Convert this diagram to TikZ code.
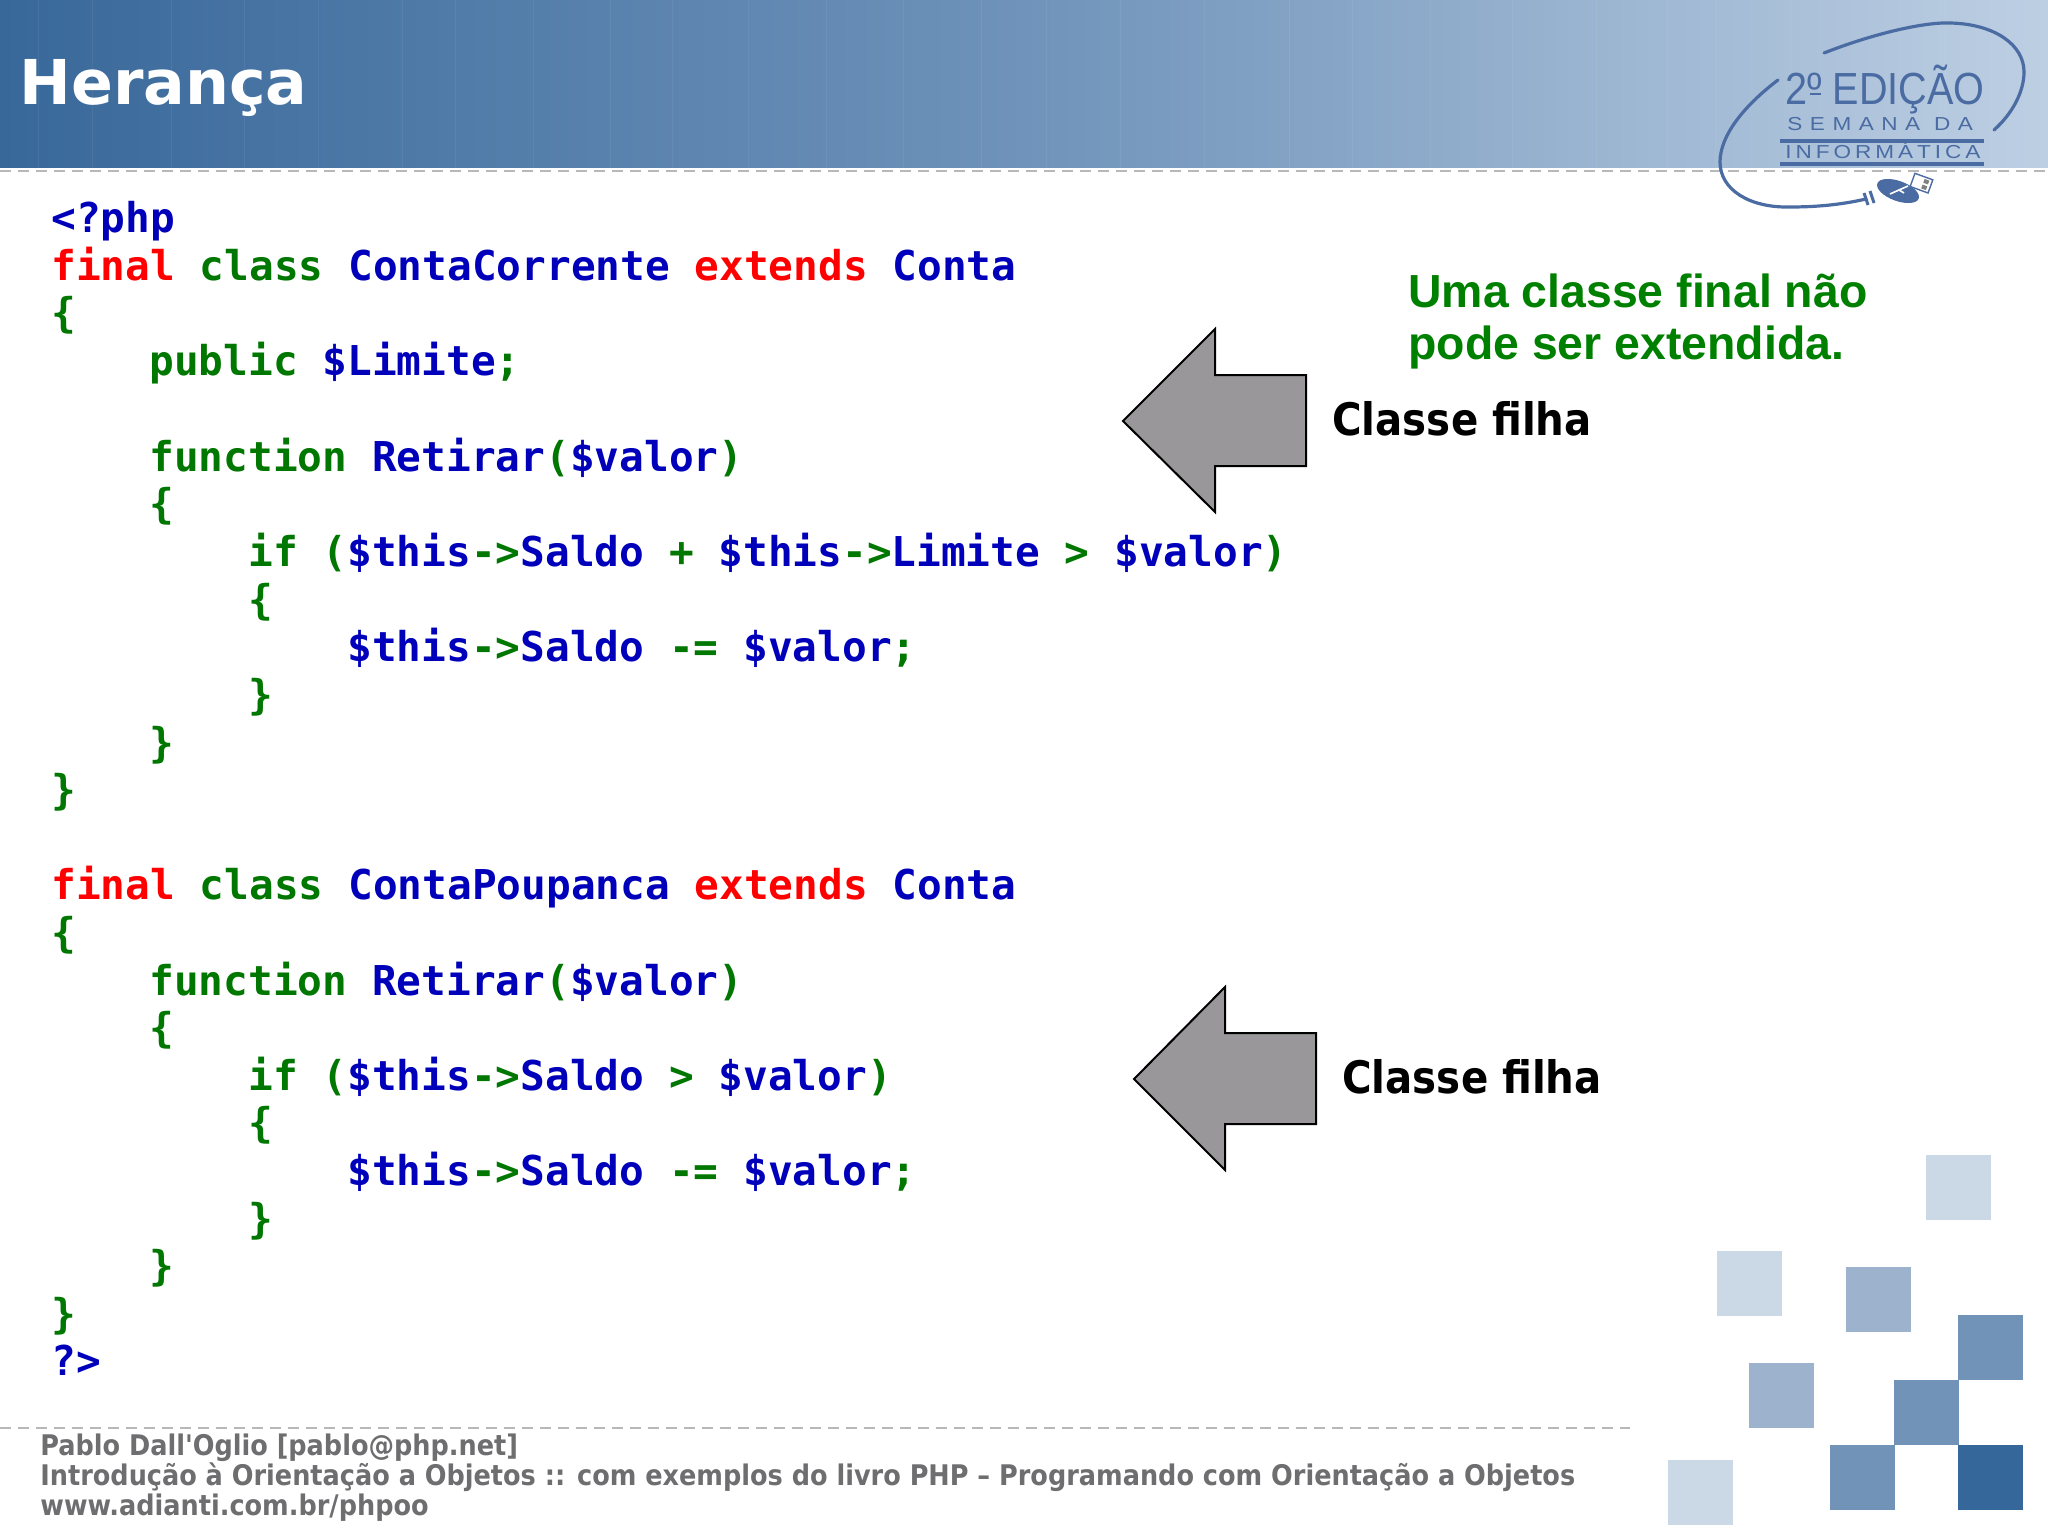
\documentclass[tikz,border=0pt]{standalone}
\usepackage{fontspec}
\usepackage{tikz}
\usetikzlibrary{positioning}
\setmainfont{DejaVu Sans}
\newfontfamily\codefont{DejaVu Sans Mono}
\newfontfamily\notefont{Liberation Sans}
\newfontfamily\labelfont{DejaVu Sans Condensed}
\newfontfamily\logofont[FakeStretch=0.88]{Liberation Sans}
\newfontfamily\logosemana[FakeStretch=1.2,LetterSpace=40]{Liberation Sans}
\newfontfamily\logoinfo[FakeStretch=1.2,LetterSpace=21]{Liberation Sans}
\definecolor{bannerleft}{HTML}{38689A}
\definecolor{bannermid}{HTML}{6F93BA}
\definecolor{bannerright}{HTML}{BDCFE3}
\definecolor{phpred}{HTML}{FF0000}
\definecolor{phpgreen}{HTML}{007700}
\definecolor{phpblue}{HTML}{0000BB}
\definecolor{notegreen}{HTML}{008000}
\definecolor{footgray}{HTML}{6E6E70}
\definecolor{dashgray}{HTML}{B8B8B8}
\definecolor{arrowgray}{HTML}{999799}
\definecolor{logoblue}{HTML}{4A6CA3}
\definecolor{sqlight}{HTML}{CBD8E5}
\definecolor{sqmid}{HTML}{9DB2CC}
\definecolor{sqstrong}{HTML}{7293B8}
\definecolor{sqdark}{HTML}{35679B}
\newcommand{\kwr}[1]{\textcolor{phpred}{#1}}
\newcommand{\kwg}[1]{\textcolor{phpgreen}{#1}}
\newcommand{\kwb}[1]{\textcolor{phpblue}{#1}}
\newcommand{\arrowop}{\kwg{->}}
\tikzset{codeline/.style = {anchor=base west, inner sep=0, font=\codefont\bfseries\fontsize{20.55}{24}\selectfont},
         footline/.style = {anchor=base west, inner sep=0, text=footgray, font=\labelfont\bfseries\fontsize{14.2}{16}\selectfont},
         noteline/.style = {anchor=base west, inner sep=0, text=notegreen, font=\notefont\bfseries\fontsize{23.2}{26}\selectfont},
         filha/.style = {anchor=base west, inner sep=0, font=\labelfont\bfseries\fontsize{22.4}{28}\selectfont},
         seta/.style = {draw=black, fill=arrowgray, line width=1pt, line join=miter},
         tracejado/.style = {dashgray, line width=1.4pt, dash pattern=on 5.5pt off 3.5pt},
         quadro/.style = {minimum size=32.5pt, inner sep=0, anchor=north west},
         logoline/.style = {logoblue, line width=1.6pt, line cap=round},
         logotext/.style = {anchor=base west, inner sep=0, text=logoblue}}
\begin{document}
\begin{tikzpicture}[x=0.5pt, y=-0.5pt]
    \useasboundingbox (0, 0) rectangle (2048, 1535);
    \fill [white] (0, 0) rectangle (2048, 1535);

    % banner
    \shade [left color=bannerleft, right color=bannerright, middle color=bannermid] (0, 0) rectangle (2048, 168);
    \foreach \sx in {38, 92, 171, 244, 318, 402, 455, 533, 610, 672, 748, 826, 903, 981, 1046, 1120, 1204, 1289, 1352, 1430, 1512, 1596, 1667, 1715, 1790, 1945}
        \fill [white, opacity=0.06] (\sx, 0) rectangle ++(1, 168);
    \draw [tracejado] (0, 171) -- (2048, 171);
    \node [anchor=base west, inner sep=0, text=white, font=\bfseries\fontsize{30.9}{36}\selectfont] (titulo) at (19, 105) {Herança};

    % logo
    \draw [logoline] (1824, 53) .. controls (1875, 33) and (1925, 22) .. (1950, 23)
                     .. controls (1995, 24) and (2024, 45) .. (2024, 72)
                     .. controls (2024, 92) and (2012, 114) .. (1994, 130);
    \draw [logoline] (1778, 80) .. controls (1745, 105) and (1720, 135) .. (1720, 162)
                     .. controls (1720, 190) and (1750, 208) .. (1790, 207)
                     .. controls (1815, 207) and (1840, 205) .. (1866, 199);
    \draw [logoblue, line width=1.5pt] (1864, 193) -- (1868, 205) (1870, 191) -- (1874, 203);
    \draw [logoblue, fill=white, line width=0.7pt, rotate around={-20:(1921, 183)}] (1912, 176) rectangle (1931, 190);
    \fill [gray, rotate around={-20:(1921, 183)}] (1923, 178) rectangle ++(5, 4) (1923, 184) rectangle ++(5, 4);
    \fill [logoblue, rotate around={-20:(1898, 191)}] (1898, 191) ellipse (22 and 10);
    \draw [white, line width=0.8pt] (1890, 194) -- (1908, 186) (1899, 190) -- (1904, 193);
    \node [logotext, font=\logofont\fontsize{22.5}{26}\selectfont] (edicao) at (1785, 105) {2º EDIÇÃO};
    \draw [logoblue, line width=0.8pt] (1810, 94) -- (1821, 94);
    \node [logotext, font=\logosemana\fontsize{9.4}{12}\selectfont] (semana) at (1787, 131) {SEMANA DA};
    \node [logotext, font=\logoinfo\fontsize{9.4}{12}\selectfont] (informatica) at (1785, 159) {INFORMÁTICA};
    \draw [logoblue, line width=1.8pt] (1780, 141) -- (1984, 141);
    \draw [logoblue, line width=1.8pt] (1780, 164) -- (1984, 164);

    % first class
    \node [codeline] (l0) at (51, 232.5) {\kwb{<?php}};
    \node [codeline] (l1) at (51, 280.5) {\kwr{final} \kwg{class} \kwb{ContaCorrente} \kwr{extends} \kwb{Conta}};
    \node [codeline] (l2) at (51, 328) {\kwg{\{}};
    \node [codeline] (l3) at (149, 375.5) {\kwg{public} \kwb{\$Limite}\kwg{;}};
    \node [codeline] (l5) at (149, 471) {\kwg{function} \kwb{Retirar}\kwg{(}\kwb{\$valor}\kwg{)}};
    \node [codeline] (l6) at (149, 518.5) {\kwg{\{}};
    \node [codeline] (l7) at (248, 566) {\kwg{if (}\kwb{\$this}\arrowop\kwb{Saldo} \kwg{+} \kwb{\$this}\arrowop\kwb{Limite} \kwg{>} \kwb{\$valor}\kwg{)}};
    \node [codeline] (l8) at (248, 614) {\kwg{\{}};
    \node [codeline] (l9) at (347, 661.5) {\kwb{\$this}\arrowop\kwb{Saldo} \kwg{-=} \kwb{\$valor}\kwg{;}};
    \node [codeline] (l10) at (248, 709) {\kwg{\}}};
    \node [codeline] (l11) at (149, 757) {\kwg{\}}};
    \node [codeline] (l12) at (51, 804.5) {\kwg{\}}};

    % second class
    \node [codeline] (l14) at (51, 899.5) {\kwr{final} \kwg{class} \kwb{ContaPoupanca} \kwr{extends} \kwb{Conta}};
    \node [codeline] (l15) at (51, 947) {\kwg{\{}};
    \node [codeline] (l16) at (149, 995) {\kwg{function} \kwb{Retirar}\kwg{(}\kwb{\$valor}\kwg{)}};
    \node [codeline] (l17) at (149, 1042.5) {\kwg{\{}};
    \node [codeline] (l18) at (248, 1090) {\kwg{if (}\kwb{\$this}\arrowop\kwb{Saldo} \kwg{>} \kwb{\$valor}\kwg{)}};
    \node [codeline] (l19) at (248, 1137.5) {\kwg{\{}};
    \node [codeline] (l20) at (347, 1185.5) {\kwb{\$this}\arrowop\kwb{Saldo} \kwg{-=} \kwb{\$valor}\kwg{;}};
    \node [codeline] (l21) at (248, 1233) {\kwg{\}}};
    \node [codeline] (l22) at (149, 1280.5) {\kwg{\}}};
    \node [codeline] (l23) at (51, 1328) {\kwg{\}}};
    \node [codeline] (l24) at (51, 1375.5) {\kwb{?>}};

    % arrows and notes
    \draw [seta] (1123, 421) -- (1215, 329) -- (1215, 375) -- (1306, 375) -- (1306, 466) -- (1215, 466) -- (1215, 512) -- cycle;
    \node [filha] (filha1) at (1332, 435) {Classe filha};
    \draw [seta] (1134, 1079) -- (1225, 987) -- (1225, 1033) -- (1316, 1033) -- (1316, 1124) -- (1225, 1124) -- (1225, 1170) -- cycle;
    \node [filha] (filha2) at (1342, 1093) {Classe filha};
    \node [noteline] (nota1) at (1408, 307) {Uma classe final não};
    \node [noteline] (nota2) at (1408, 359) {pode ser extendida.};

    % squares
    \node [quadro, fill=sqlight] (qa) at (1926, 1155) {};
    \node [quadro, fill=sqlight] (qb) at (1717, 1251) {};
    \node [quadro, fill=sqlight] (qc) at (1668, 1460) {};
    \node [quadro, fill=sqmid] (qd) at (1846, 1267) {};
    \node [quadro, fill=sqmid] (qe) at (1749, 1363) {};
    \node [quadro, fill=sqstrong] (qf) at (1958, 1315) {};
    \node [quadro, fill=sqstrong] (qg) at (1894, 1380) {};
    \node [quadro, fill=sqstrong] (qh) at (1830, 1445) {};
    \node [quadro, fill=sqdark] (qi) at (1958, 1445) {};

    % footer
    \draw [tracejado] (0, 1428) -- (1630, 1428);
    \node [footline] (autor) at (40, 1455) {Pablo Dall'Oglio [pablo@php.net]};
    \node [footline] (livro) at (40, 1485) {Introdução à Orientação a Objetos :: com exemplos do livro PHP – Programando com Orientação a Objetos};
    \node [footline] (site) at (40, 1515) {www.adianti.com.br/phpoo};
\end{tikzpicture}
\end{document}
